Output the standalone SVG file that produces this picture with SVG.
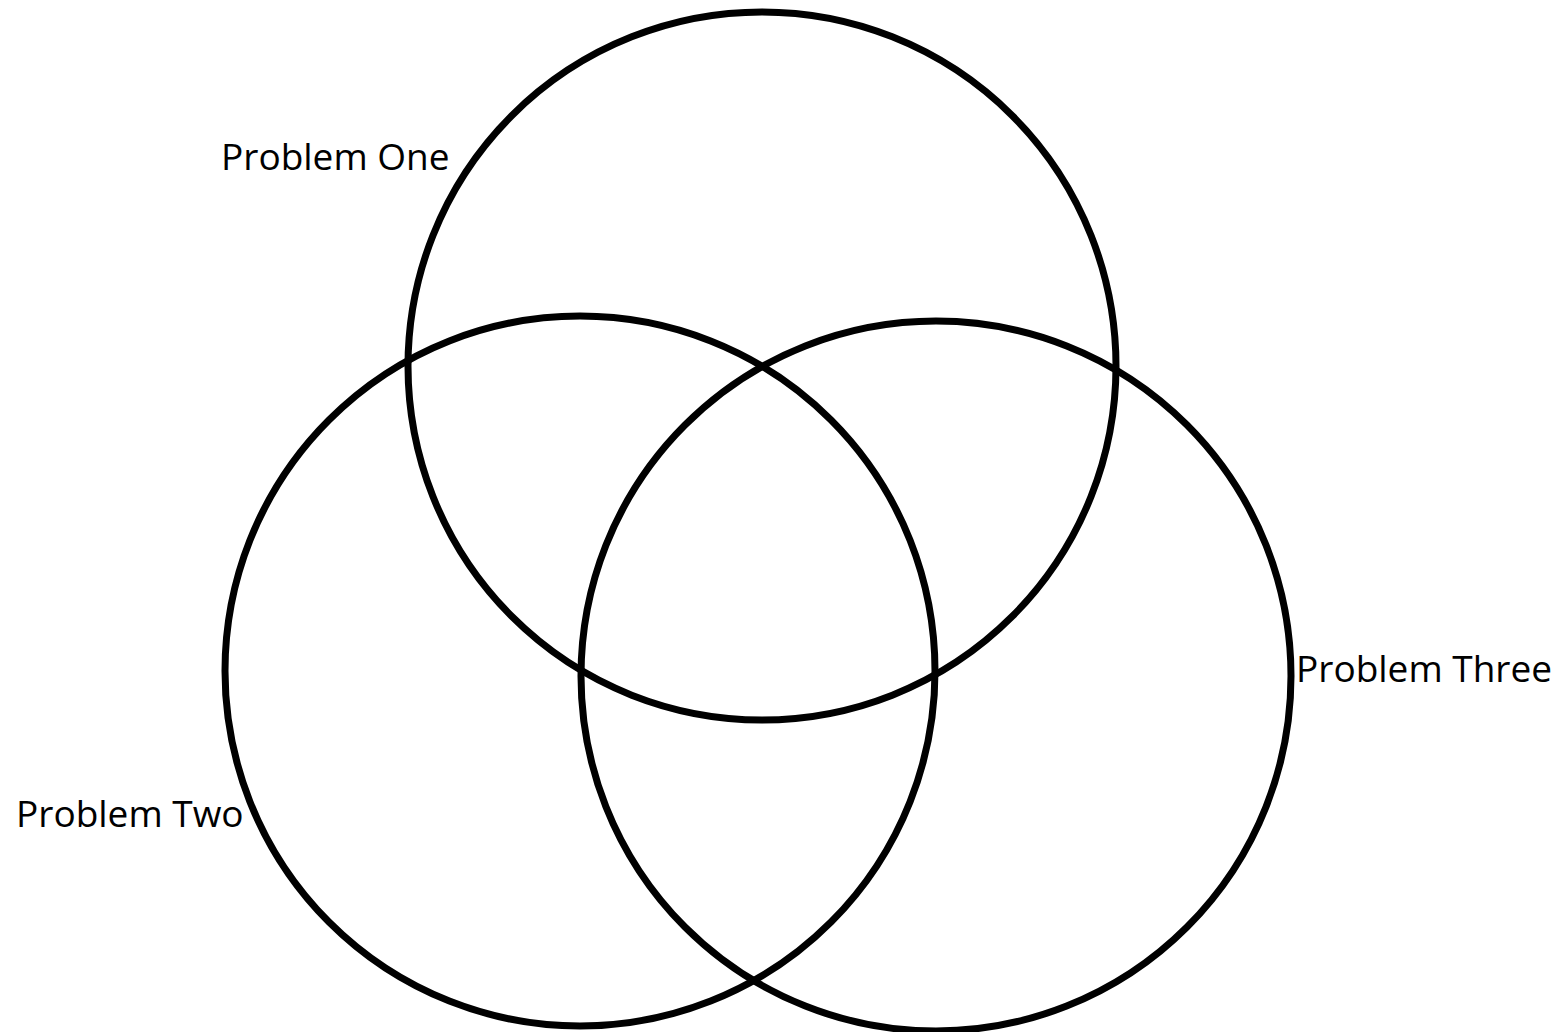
<svg xmlns="http://www.w3.org/2000/svg" width="1564" height="1032" viewBox="0 0 1564 1032">
<style>
.c{fill:none;stroke:#000;stroke-width:7}
.t{font-family:"Open Sans","Liberation Sans",sans-serif;font-size:37px;fill:#000}
</style>
<rect width="1564" height="1032" fill="#fff"/>
<g id="circle-one"><circle class="c" cx="762" cy="366" r="354"/></g>
<g id="circle-two"><circle class="c" cx="580" cy="671" r="355"/></g>
<g id="circle-three"><circle class="c" cx="936" cy="676" r="355"/></g>
<g id="label-one"><text class="t" x="221" y="170">Problem One</text></g>
<g id="label-two"><text class="t" x="16" y="827">Problem Two</text></g>
<g id="label-three"><text class="t" x="1296" y="682">Problem Three</text></g>
<g id="connectors"></g>
</svg>
